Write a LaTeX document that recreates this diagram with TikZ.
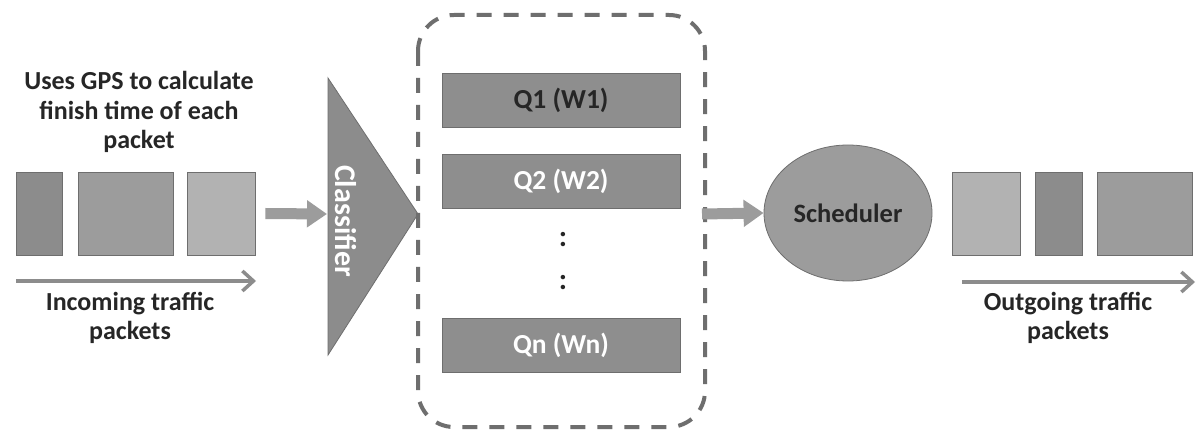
\documentclass[tikz,border=0pt]{standalone}
\usepackage{fontspec}
\setmainfont{Carlito}
\usetikzlibrary{arrows.meta,shapes.geometric}
\definecolor{txt}{HTML}{262626}
\definecolor{pkA}{HTML}{8C8C8C}
\definecolor{pkB}{HTML}{9C9C9C}
\definecolor{pkC}{HTML}{B2B2B2}
\definecolor{qbox}{HTML}{8E8E8E}
\definecolor{edge}{HTML}{6E6E6E}
\tikzset{
  pkt/.style={draw=edge, line width=0.8pt, inner sep=0pt, minimum height=83pt},
  qnode/.style={draw=edge, line width=0.8pt, fill=qbox, inner sep=0pt, minimum width=238pt, minimum height=54pt, font=\bfseries\fontsize{27.5}{29}\selectfont},
  lbl/.style={align=center, text=txt, font=\bfseries\fontsize{26}{29.5}\selectfont},
  flow/.style={draw=pkA, line width=3.5pt, -{Straight Barb[length=11pt,width=20pt]}},
  blockarrow/.style={draw=pkB, line width=11pt, -{Triangle[length=20pt,width=26pt]}},
}
\begin{document}
\begin{tikzpicture}[x=1pt,y=-1pt]
\useasboundingbox[fill=white] (0,0) rectangle (1196,430);
% incoming packets
\node[pkt, fill=pkA, minimum width=46pt] (in1) at (39,213.5) {};
\node[pkt, fill=pkB, minimum width=95pt] (in2) at (125.5,213.5) {};
\node[pkt, fill=pkC, minimum width=68pt] (in3) at (221,213.5) {};
\node[lbl] (gps) at (139,112) {Uses GPS to calculate\\finish time of each\\packet};
\coordinate (inS) at (16,281);
\coordinate (inE) at (256,281);
\draw[flow] (inS) -- (inE);
\node[lbl] (inlbl) at (130,318) {Incoming traffic\\packets};
% classifier
\fill[pkA, draw=edge, line width=0.8pt] (328,78) -- (418,214) -- (328,355) -- cycle;
\node[rotate=-90, text=white, font=\bfseries\fontsize{30}{32}\selectfont] (cls) at (346,221) {Classifier};
\coordinate (clsW) at (327,214);
\draw[blockarrow] ([xshift=10pt]in3.east) -- (clsW);
% queues
\draw[draw=edge, line width=4pt, dash pattern=on 15pt off 12pt, rounded corners=36pt] (418,15) rectangle (705,427);
\node[qnode, text=txt] (q1) at (561,100) {Q1 (W1)};
\node[qnode, text=white] (q2) at (561,181.5) {Q2 (W2)};
\node[text=txt, font=\bfseries\fontsize{30}{32}\selectfont] (d1) at (563,240) {:};
\node[text=txt, font=\bfseries\fontsize{30}{32}\selectfont] (d2) at (563,283) {:};
\node[qnode, text=white] (qn) at (561,345) {Qn (Wn)};
\coordinate (boxE) at (702,214);
% scheduler
\node[ellipse, draw=edge, line width=0.8pt, fill=pkB, minimum width=168pt, minimum height=136pt, inner sep=0pt, text=txt, font=\bfseries\fontsize{26.5}{28}\selectfont] (sch) at (848,213) {Scheduler};
\draw[blockarrow] (boxE) -- (sch.west);
% outgoing packets
\node[pkt, fill=pkC, minimum width=68pt] (out1) at (986,213.5) {};
\node[pkt, fill=pkA, minimum width=47pt] (out2) at (1058.5,213.5) {};
\node[pkt, fill=pkB, minimum width=95pt] (out3) at (1144.5,213.5) {};
\coordinate (outS) at (962,282);
\coordinate (outE) at (1195,282);
\draw[flow] (outS) -- (outE);
\node[lbl] (outlbl) at (1068,318) {Outgoing traffic\\packets};
\end{tikzpicture}
\end{document}
